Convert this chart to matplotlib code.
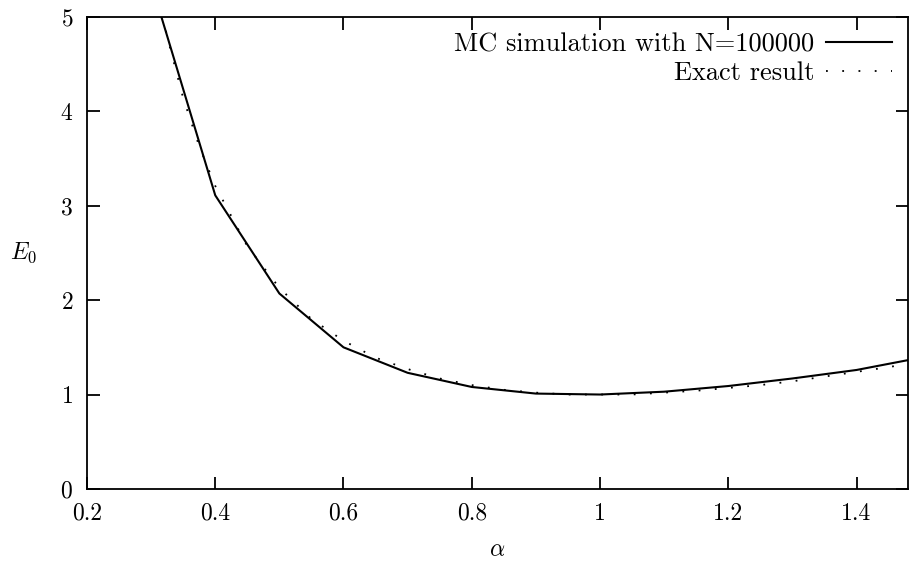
import numpy as np
import matplotlib
matplotlib.use('Agg')
from matplotlib import pyplot as plt

plt.rcParams['font.family'] = 'serif'
plt.rcParams['font.serif'] = ['cmr10']
plt.rcParams['mathtext.fontset'] = 'cm'
plt.rcParams['axes.formatter.use_mathtext'] = True

# MC simulation, N=100000
alpha_mc = np.array([0.3, 0.4, 0.5, 0.6, 0.7, 0.8, 0.9, 1.0, 1.1, 1.2, 1.3, 1.4, 1.5])
e0_mc = np.array([5.36, 3.11, 2.07, 1.50, 1.23, 1.08, 1.01, 1.00, 1.03, 1.09, 1.17, 1.26, 1.39])

# exact result
alpha_exact = np.array([0.30, 0.325, 0.35, 0.375, 0.40, 0.45, 0.50, 0.55, 0.60, 0.65, 0.70, 0.75,
                        0.80, 0.85, 0.90, 0.95, 1.00, 1.05, 1.10, 1.15, 1.20, 1.25, 1.30,
                        1.35, 1.40, 1.45, 1.50])
e0_exact = np.array([5.6, 4.79, 4.14, 3.63, 3.21, 2.57, 2.13, 1.80, 1.57, 1.39, 1.27, 1.17,
                     1.10, 1.05, 1.02, 1.00, 1.00, 1.00, 1.02, 1.04, 1.07, 1.10, 1.14,
                     1.19, 1.24, 1.29, 1.35])

fig = plt.figure(figsize=(9.09, 5.62), dpi=100)
ax = fig.add_axes([0.0957, 0.13, 0.903, 0.84])

ax.plot(alpha_mc, e0_mc, '-', color='black', linewidth=1.5, label='MC simulation with N=100000')
ax.plot(alpha_exact, e0_exact, color='black', linewidth=1.3, linestyle=(0, (1, 8)),
        label='Exact result')

ax.set_xlim(0.2, 1.48)
ax.set_ylim(0, 5)
ax.set_xticks([0.2, 0.4, 0.6, 0.8, 1.0, 1.2, 1.4])
ax.set_xticklabels(['0.2', '0.4', '0.6', '0.8', '1', '1.2', '1.4'])
ax.set_yticks([0, 1, 2, 3, 4, 5])
ax.tick_params(direction='in', top=True, right=True, length=9, width=1.3,
               labelsize=17, pad=10)
for s in ax.spines.values():
    s.set_linewidth(1.3)

ax.set_xlabel(r'$\alpha$', fontsize=17, labelpad=10)
ax.set_ylabel(r'$E_0$', fontsize=17, rotation=0, labelpad=26, va='center')

ax.legend(loc='upper right', frameon=False, markerfirst=False, fontsize=19,
          handlelength=2.5, handletextpad=0.45, borderaxespad=0.2, labelspacing=0.2)

fig.savefig('out.png', dpi=100)
